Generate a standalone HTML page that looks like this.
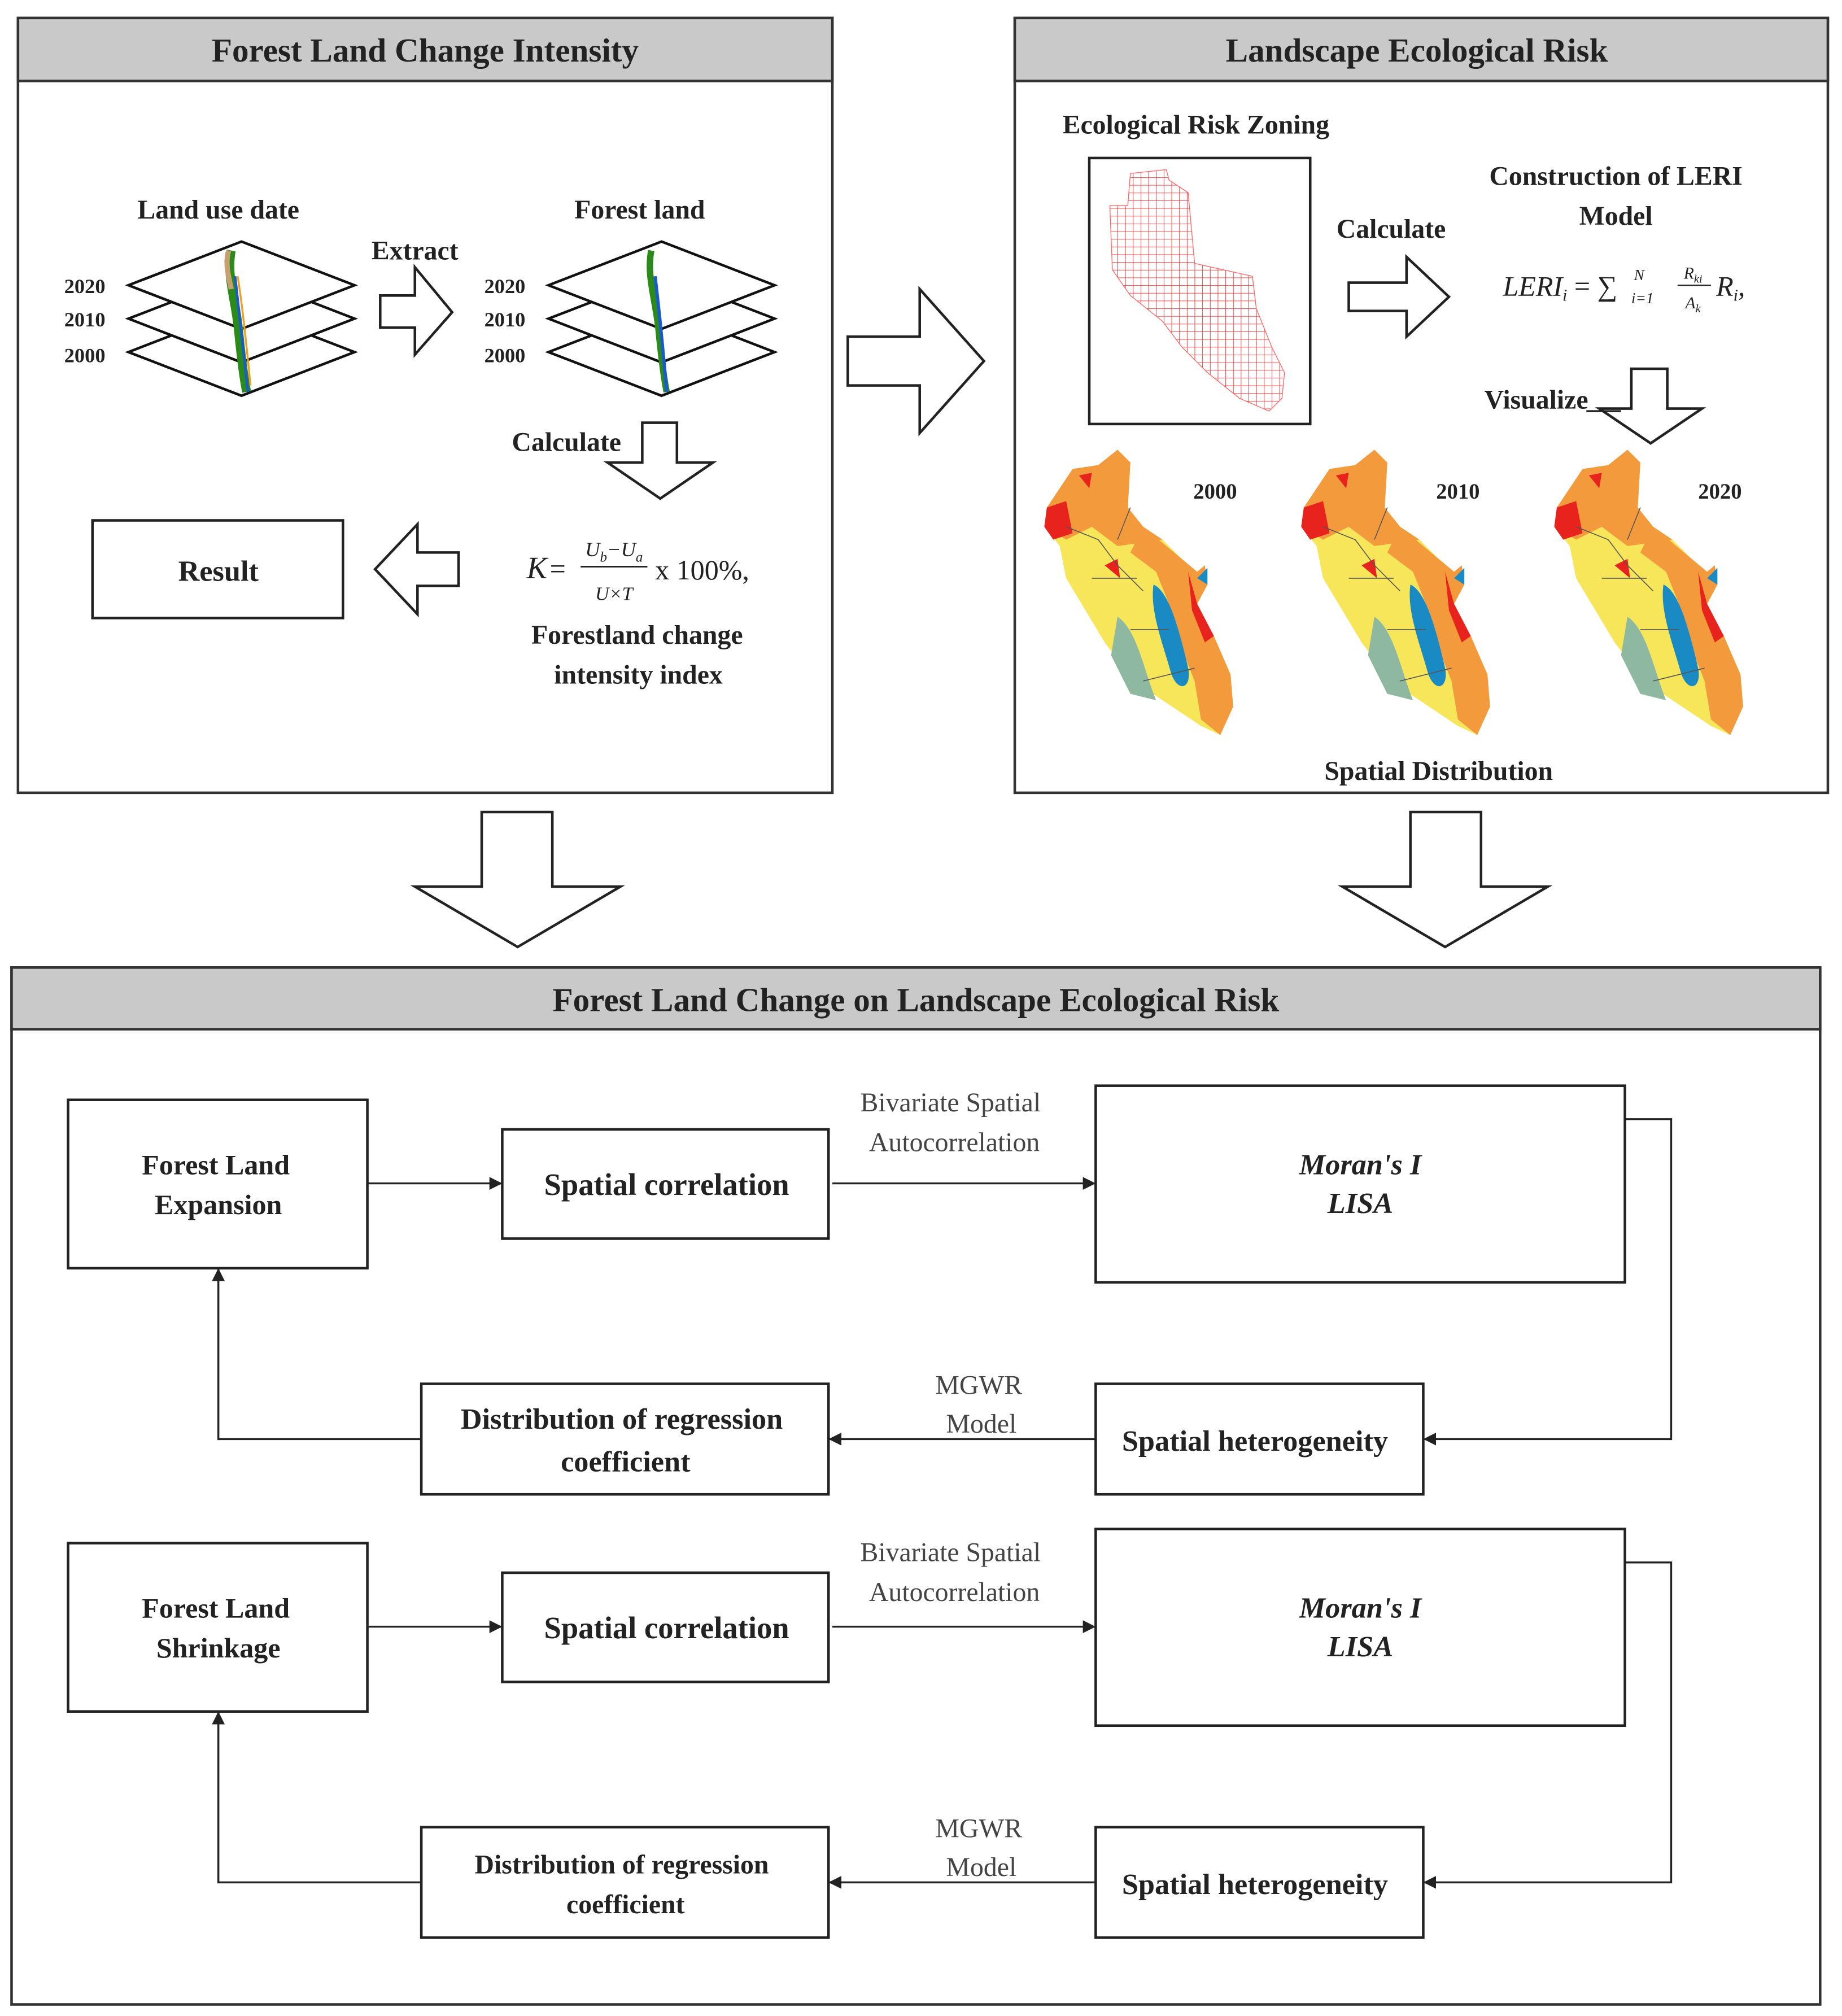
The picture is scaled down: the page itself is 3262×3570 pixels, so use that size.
<!DOCTYPE html>
<html><head><meta charset="utf-8"><style>html,body{margin:0;padding:0;background:#fff}svg{display:block}</style></head>
<body>
<svg width="3262" height="3570" viewBox="0 0 1434 1569" preserveAspectRatio="none" xmlns="http://www.w3.org/2000/svg" font-family="'Liberation Serif', serif">
<defs>
<pattern id="grid" width="6" height="6" patternUnits="userSpaceOnUse"><path d="M0 0H6M0 0V6" stroke="#e33" stroke-width="0.8" fill="none"/></pattern>
<marker id="ah" markerWidth="10" markerHeight="10" refX="9" refY="5" orient="auto" markerUnits="userSpaceOnUse"><path d="M0 0L10 5L0 10Z" fill="#222"/></marker>
<g id="map">
<path d="M5 45 L25 15 L45 12 L60 0 L70 10 L68 45 L80 60 L95 70 L110 85 L122 95 L128 90 L130 105 L122 120 L135 145 L148 175 L150 200 L140 222 L125 215 L110 205 L95 195 L80 185 L65 170 L50 150 L35 125 L20 100 L15 75 L3 60Z" fill="#f7e65a"/>
<path d="M5 45 L25 15 L45 12 L60 0 L70 10 L68 45 L80 60 L95 70 L60 75 L40 60 L20 70 L3 60Z" fill="#f39a3c"/>
<path d="M5 45 L20 40 L25 65 L10 70 L3 60Z" fill="#e8231e"/>
<path d="M80 60 L110 85 L122 95 L128 90 L130 105 L122 120 L135 145 L148 175 L150 200 L140 222 L125 210 L120 180 L108 150 L100 120 L90 95 L70 80Z" fill="#f39a3c"/>
<path d="M115 95 L122 120 L135 145 L128 150 L118 125Z" fill="#e8231e"/>
<path d="M88 105 C100 110 108 140 115 170 C118 185 108 190 102 175 C95 150 85 125 88 105Z" fill="#1a8ac4"/>
<path d="M60 130 C75 140 80 170 90 195 L70 190 L55 160Z" fill="#8fb8a0"/>
<path d="M122 100 L130 92 L130 105Z" fill="#1a8ac4"/>
<path d="M30 20 L40 18 L38 30 Z M50 90 L60 85 L62 100Z" fill="#e8231e"/>
<path d="M20 60 L45 70 L60 90 L80 110 M70 45 L60 70 M40 100 L75 100 M70 140 L100 140 M80 180 L120 170" stroke="#555" stroke-width="0.7" fill="none"/>
</g>
</defs>
<rect width="1434" height="1569" fill="#fff"/>

<rect x="14" y="14" width="634" height="603" fill="#fff" stroke="#333" stroke-width="2"/>
<rect x="14" y="14" width="634" height="49" fill="#c9c9c9" stroke="#333" stroke-width="2"/>
<text x="331" y="48" font-size="26" font-weight="bold" text-anchor="middle" fill="#222">Forest Land Change Intensity</text>
<g font-weight="bold" fill="#222">
<text x="170" y="170" font-size="21" text-anchor="middle">Land use date</text>
<text x="498" y="170" font-size="21" text-anchor="middle">Forest land</text>
<text x="323" y="202" font-size="21" text-anchor="middle">Extract</text>
<text x="66" y="228" font-size="16" text-anchor="middle">2020</text>
<text x="66" y="254" font-size="16" text-anchor="middle">2010</text>
<text x="66" y="282" font-size="16" text-anchor="middle">2000</text>
<text x="393" y="228" font-size="16" text-anchor="middle">2020</text>
<text x="393" y="254" font-size="16" text-anchor="middle">2010</text>
<text x="393" y="282" font-size="16" text-anchor="middle">2000</text>
<text x="441" y="351" font-size="21" text-anchor="middle">Calculate</text>
</g>
<g fill="#fff" stroke="#111" stroke-width="2">
<path d="M188 240 L276 274 L188 308 L100 274Z"/>
<path d="M188 214 L276 248 L188 282 L100 248Z"/>
<path d="M188 188 L276 222 L188 256 L100 222Z"/>
<path d="M515 240 L603 274 L515 308 L427 274Z"/>
<path d="M515 214 L603 248 L515 282 L427 248Z"/>
<path d="M515 188 L603 222 L515 256 L427 222Z"/>
</g>
<path d="M180 195 C176 215 184 235 186 260 C188 280 190 295 192 305" stroke="#2a8a1a" stroke-width="7" fill="none"/>
<path d="M178 195 C175 205 178 215 180 225" stroke="#c8a070" stroke-width="4" fill="none"/>
<path d="M183 215 C186 240 189 270 193 305" stroke="#1a5ad0" stroke-width="2" fill="none"/>
<path d="M185 215 C189 240 192 270 195 300" stroke="#f0a020" stroke-width="1.5" fill="none"/>
<path d="M507 195 C503 215 511 235 513 260 C515 280 517 295 519 305" stroke="#2a8a1a" stroke-width="5" fill="none"/>
<path d="M510 215 C513 240 516 270 519 305" stroke="#1a5ad0" stroke-width="2.5" fill="none"/>
<path d="M296 230 H323 V208 L352 243 L323 276 V255 H296Z" fill="#fff" stroke="#222" stroke-width="2"/>
<path d="M500 329 H527 V360 H555 L514 388 L473 360 H500Z" fill="#fff" stroke="#222" stroke-width="2"/>
<rect x="72" y="405" width="195" height="76" fill="#fff" stroke="#222" stroke-width="2"/>
<text x="170" y="452" font-size="23" font-weight="bold" text-anchor="middle" fill="#222">Result</text>
<path d="M292 443 L325 408 V430 H357 V456 H325 V478Z" fill="#fff" stroke="#222" stroke-width="2"/>
<text x="410" y="450" font-size="24" font-style="italic" fill="#222">K</text>
<text x="428" y="450" font-size="22" fill="#222">=</text>
<text x="478" y="433" font-size="16" font-style="italic" text-anchor="middle" fill="#222">U<tspan font-size="11" dy="4">b</tspan><tspan dy="-4">−U</tspan><tspan font-size="11" dy="4">a</tspan></text>
<line x1="452" y1="441" x2="504" y2="441" stroke="#222" stroke-width="1.3"/>
<text x="478" y="467" font-size="15" font-style="italic" text-anchor="middle" fill="#222">U×T</text>
<text x="510" y="451" font-size="22" fill="#222">x 100%,</text>
<text x="496" y="501" font-size="21" font-weight="bold" text-anchor="middle" fill="#222">Forestland change</text>
<text x="497" y="532" font-size="21" font-weight="bold" text-anchor="middle" fill="#222">intensity index</text>

<path d="M660 262 H716 V225 L766 281 L716 337 V300 H660Z" fill="#fff" stroke="#222" stroke-width="2"/>

<rect x="790" y="14" width="633" height="603" fill="#fff" stroke="#333" stroke-width="2"/>
<rect x="790" y="14" width="633" height="49" fill="#c9c9c9" stroke="#333" stroke-width="2"/>
<text x="1103" y="48" font-size="26" font-weight="bold" text-anchor="middle" fill="#222">Landscape Ecological Risk</text>
<text x="931" y="104" font-size="21" font-weight="bold" text-anchor="middle" fill="#222">Ecological Risk Zoning</text>
<rect x="848" y="123" width="172" height="207" fill="#fff" stroke="#222" stroke-width="2"/>
<path d="M880 135 L908 132 L910 140 L925 150 L930 205 L975 215 L978 240 L990 270 L1000 290 L998 310 L988 320 L965 310 L940 290 L920 270 L905 250 L880 230 L866 210 L864 160 L878 160Z" fill="url(#grid)" stroke="#f66" stroke-width="0.6"/>
<text x="1083" y="185" font-size="21" font-weight="bold" text-anchor="middle" fill="#222">Calculate</text>
<text x="1258" y="144" font-size="21" font-weight="bold" text-anchor="middle" fill="#222">Construction of LERI</text>
<text x="1258" y="175" font-size="21" font-weight="bold" text-anchor="middle" fill="#222">Model</text>
<path d="M1050 220 H1095 V200 L1128 231 L1095 262 V242 H1050Z" fill="#fff" stroke="#222" stroke-width="2"/>
<text x="1170" y="230" font-size="22" font-style="italic" fill="#222">LERI<tspan font-size="13" dy="4">i</tspan><tspan dy="-4" font-style="normal"> = ∑</tspan></text>
<text x="1272" y="218" font-size="12" font-style="italic" fill="#222">N</text>
<text x="1270" y="236" font-size="12" font-style="italic" fill="#222">i=1</text>
<text x="1318" y="217" font-size="13" font-style="italic" text-anchor="middle" fill="#222">R<tspan font-size="9" dy="3">ki</tspan></text>
<line x1="1306" y1="222" x2="1332" y2="222" stroke="#222" stroke-width="1"/>
<text x="1318" y="240" font-size="13" font-style="italic" text-anchor="middle" fill="#222">A<tspan font-size="9" dy="3">k</tspan></text>
<text x="1336" y="230" font-size="22" font-style="italic" fill="#222">R<tspan font-size="13" dy="4">i</tspan><tspan dy="-4">,</tspan></text>
<text x="1196" y="318" font-size="21" font-weight="bold" text-anchor="middle" fill="#222">Visualize</text>
<path d="M1270 287 H1298 V318 H1325 L1285 345 L1245 318 H1270Z" fill="#fff" stroke="#222" stroke-width="2"/>
<line x1="1235" y1="320" x2="1262" y2="320" stroke="#222" stroke-width="1.5"/>
<use href="#map" transform="translate(810,350)"/>
<use href="#map" transform="translate(1010,350)"/>
<use href="#map" transform="translate(1207,350)"/>
<g font-size="17" font-weight="bold" fill="#222" text-anchor="middle">
<text x="946" y="388">2000</text><text x="1135" y="388">2010</text><text x="1339" y="388">2020</text>
</g>
<text x="1120" y="607" font-size="21" font-weight="bold" text-anchor="middle" fill="#222">Spatial Distribution</text>

<path d="M375 632 H430 V690 H483 L403 737 L323 690 H375Z" fill="#fff" stroke="#222" stroke-width="2"/>
<path d="M1098 632 H1153 V690 H1205 L1125 737 L1045 690 H1098Z" fill="#fff" stroke="#222" stroke-width="2"/>

<rect x="9" y="753" width="1408" height="807" fill="#fff" stroke="#333" stroke-width="2"/>
<rect x="9" y="753" width="1408" height="48" fill="#c9c9c9" stroke="#333" stroke-width="2"/>
<text x="713" y="787" font-size="26" font-weight="bold" text-anchor="middle" fill="#222">Forest Land Change on Landscape Ecological Risk</text>

<g id="row" fill="none" stroke="#222" stroke-width="2">
<rect x="53" y="856" width="233" height="131" fill="#fff"/>
<rect x="391" y="879" width="254" height="85" fill="#fff"/>
<rect x="853" y="845" width="412" height="153" fill="#fff"/>
<rect x="853" y="1077" width="255" height="86" fill="#fff"/>
<rect x="328" y="1077" width="317" height="86" fill="#fff"/>
<g stroke-width="1.5">
<line x1="286" y1="921" x2="390" y2="921" marker-end="url(#ah)"/>
<line x1="648" y1="921" x2="852" y2="921" marker-end="url(#ah)"/>
<polyline points="1265,871 1301,871 1301,1120 1109,1120" marker-end="url(#ah)"/>
<line x1="853" y1="1120" x2="646" y2="1120" marker-end="url(#ah)"/>
<polyline points="328,1120 170,1120 170,988" marker-end="url(#ah)"/>
</g>
</g>
<g fill="#222" text-anchor="middle">
<text x="168" y="914" font-size="22" font-weight="bold">Forest Land</text>
<text x="170" y="945" font-size="22" font-weight="bold">Expansion</text>
<text x="519" y="930" font-size="24" font-weight="bold">Spatial correlation</text>
<text x="740" y="865" font-size="21" fill="#444">Bivariate Spatial</text>
<text x="743" y="896" font-size="21" fill="#444">Autocorrelation</text>
<text x="1059" y="914" font-size="23" font-weight="bold" font-style="italic">Moran's I</text>
<text x="1059" y="944" font-size="23" font-weight="bold" font-style="italic">LISA</text>
<text x="762" y="1085" font-size="21" fill="#444">MGWR</text>
<text x="764" y="1115" font-size="21" fill="#444">Model</text>
<text x="977" y="1129" font-size="23" font-weight="bold">Spatial heterogeneity</text>
<text x="484" y="1112" font-size="23" font-weight="bold">Distribution of regression</text>
<text x="487" y="1145" font-size="23" font-weight="bold">coefficient</text>
</g>
<use href="#row" transform="translate(0,345)"/>
<g fill="#222" text-anchor="middle">
<text x="168" y="1259" font-size="22" font-weight="bold">Forest Land</text>
<text x="170" y="1290" font-size="22" font-weight="bold">Shrinkage</text>
<text x="519" y="1275" font-size="24" font-weight="bold">Spatial correlation</text>
<text x="740" y="1215" font-size="21" fill="#444">Bivariate Spatial</text>
<text x="743" y="1246" font-size="21" fill="#444">Autocorrelation</text>
<text x="1059" y="1259" font-size="23" font-weight="bold" font-style="italic">Moran's I</text>
<text x="1059" y="1289" font-size="23" font-weight="bold" font-style="italic">LISA</text>
<text x="762" y="1430" font-size="21" fill="#444">MGWR</text>
<text x="764" y="1460" font-size="21" fill="#444">Model</text>
<text x="977" y="1474" font-size="23" font-weight="bold">Spatial heterogeneity</text>
<text x="484" y="1458" font-size="21" font-weight="bold">Distribution of regression</text>
<text x="487" y="1489" font-size="21" font-weight="bold">coefficient</text>
</g>
</svg>
</body></html>
